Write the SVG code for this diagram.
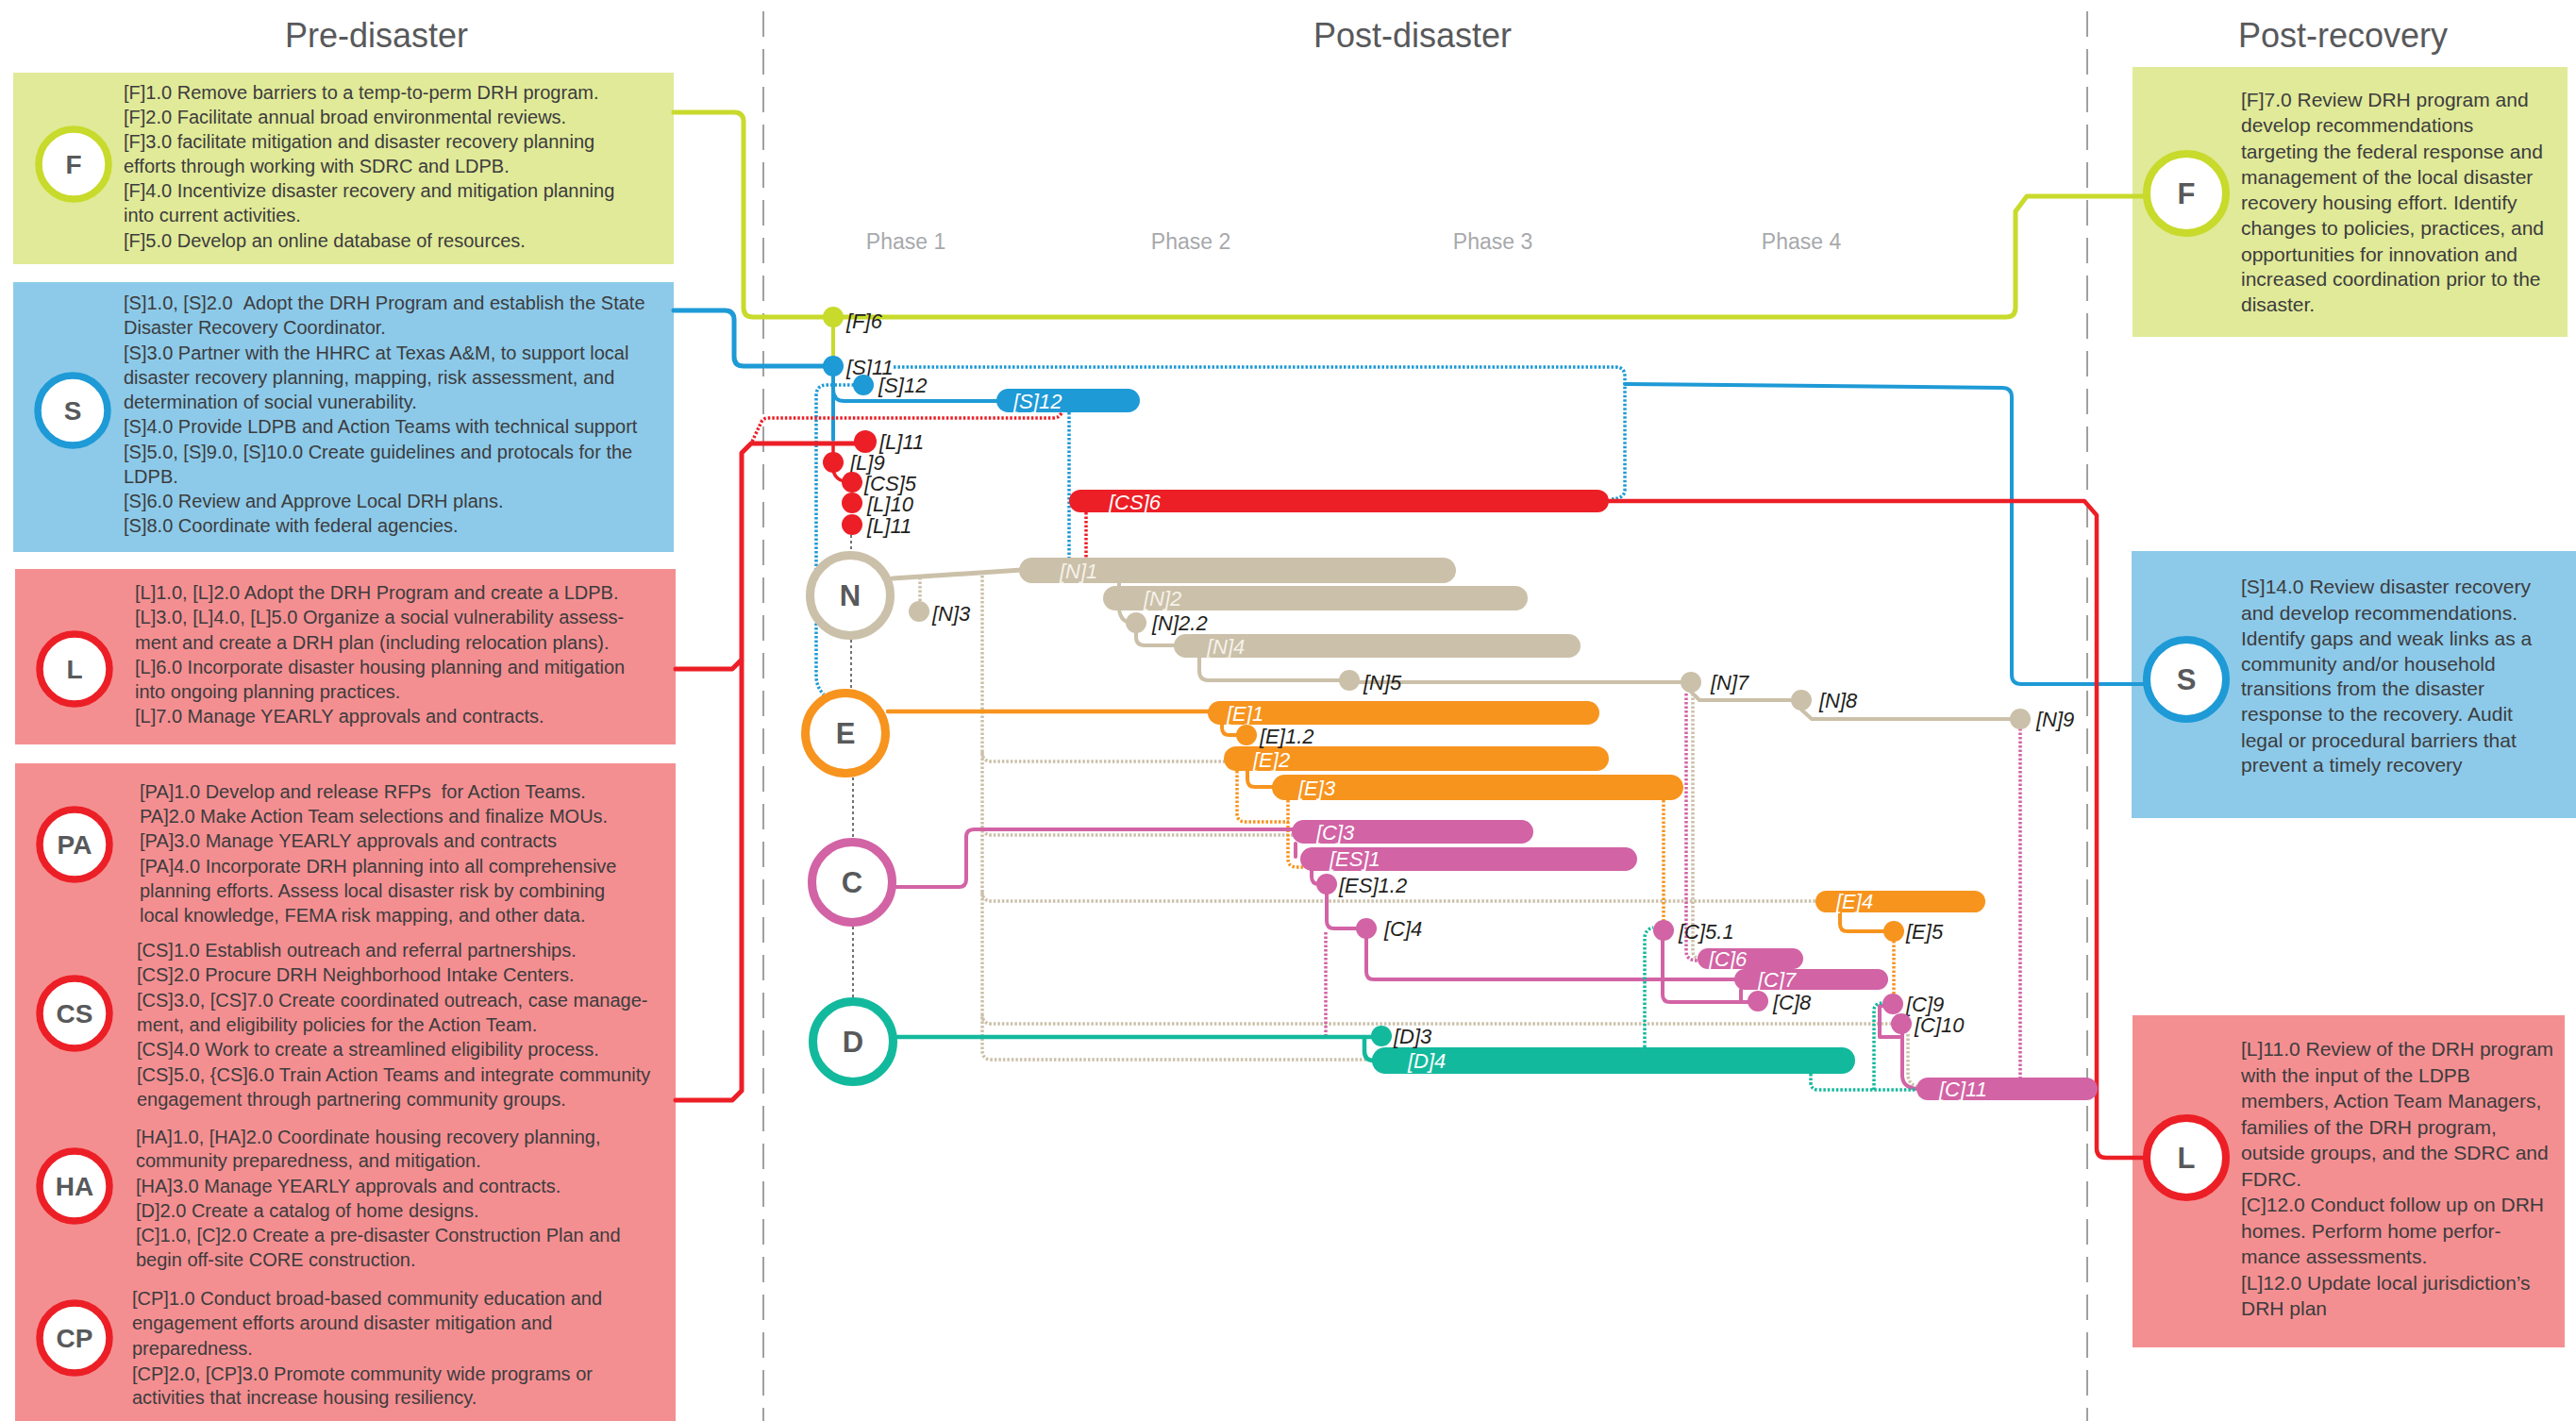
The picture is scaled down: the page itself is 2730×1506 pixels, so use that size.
<svg xmlns="http://www.w3.org/2000/svg" width="2730" height="1506" viewBox="0 0 2730 1506">
<style>
text{font-family:"Liberation Sans",Arial,sans-serif}
.hdr{font-size:36px;fill:#58595b;text-anchor:middle}
.ph{font-size:23px;fill:#a7a9ac;text-anchor:middle}
.body{font-size:20px;fill:#3c3c3e}
.rbody{font-size:21px;fill:#3c3c3e}
.let{font-size:28px;font-weight:bold;fill:#58595b;text-anchor:middle}
.clet{font-size:31px;font-weight:bold;fill:#58595b;text-anchor:middle}
.lbl{font-size:22px;font-style:italic;fill:#231f20}
.blbl{font-size:22px;font-style:italic;fill:#ffffff}
.nlbl{font-size:22px;font-style:italic;fill:#f6f2ea}
.div{stroke:#a0a0a0;stroke-width:2;stroke-dasharray:27 13;fill:none}
.ln{fill:none;stroke-linejoin:round;stroke-linecap:round}
.dt{fill:none;stroke-width:3.5;stroke-dasharray:2.5 2}
.bk{fill:none;stroke:#444;stroke-width:1.5;stroke-dasharray:3 3}
.cw{fill:#fff}
.yg{stroke:#c8da2b}.bl{stroke:#1e9ad6}.rd{stroke:#ec1f26}.bg{stroke:#cbc0a9}.or{stroke:#f7941e}.pk{stroke:#d263a5}.tl{stroke:#13b99d}
.fyg{fill:#c8da2b}.fbl{fill:#1e9ad6}.frd{fill:#ec1f26}.fbg{fill:#cbc0a9}.for{fill:#f7941e}.fpk{fill:#d263a5}.ftl{fill:#13b99d}
</style>
<rect width="2730" height="1506" fill="#ffffff"/>

<g id="headers">
<text class="hdr" x="399" y="50">Pre-disaster</text>
<text class="hdr" x="1497" y="50">Post-disaster</text>
<text class="hdr" x="2483" y="50">Post-recovery</text>
<text class="ph" x="960" y="264">Phase 1</text>
<text class="ph" x="1262" y="264">Phase 2</text>
<text class="ph" x="1582" y="264">Phase 3</text>
<text class="ph" x="1909" y="264">Phase 4</text>
<line class="div" x1="809" y1="12" x2="809" y2="1506"/>
<line class="div" x1="2212" y1="12" x2="2212" y2="1506"/>
</g>

<!-- Left boxes -->
<g id="box-F-pre">
<rect x="14" y="77" width="700" height="203" fill="#e1ea98"/>
<circle cx="78" cy="174" r="37" class="cw yg" stroke-width="7.5"/>
<text class="let" x="78" y="184">F</text>
<text class="body"><tspan x="131" y="105">[F]1.0 Remove barriers to a temp-to-perm DRH program.</tspan><tspan x="131" y="131">[F]2.0 Facilitate annual broad environmental reviews.</tspan><tspan x="131" y="157">[F]3.0 facilitate mitigation and disaster recovery planning</tspan><tspan x="131" y="183">efforts through working with SDRC and LDPB.</tspan><tspan x="131" y="209">[F]4.0 Incentivize disaster recovery and mitigation planning</tspan><tspan x="131" y="235">into current activities.</tspan><tspan x="131" y="262">[F]5.0 Develop an online database of resources.</tspan></text>
</g>
<g id="box-S-pre">
<rect x="14" y="299" width="700" height="286" fill="#8dcae9"/>
<circle cx="77" cy="435" r="37" class="cw bl" stroke-width="7.5"/>
<text class="let" x="77" y="445">S</text>
<text class="body"><tspan x="131" y="328">[S]1.0, [S]2.0 &#160;Adopt the DRH Program and establish the State</tspan><tspan x="131" y="354">Disaster Recovery Coordinator.</tspan><tspan x="131" y="381">[S]3.0 Partner with the HHRC at Texas A&amp;M, to support local</tspan><tspan x="131" y="407">disaster recovery planning, mapping, risk assessment, and</tspan><tspan x="131" y="433">determination of social vunerability.</tspan><tspan x="131" y="459">[S]4.0 Provide LDPB and Action Teams with technical support</tspan><tspan x="131" y="486">[S]5.0, [S]9.0, [S]10.0 Create guidelines and protocals for the</tspan><tspan x="131" y="512">LDPB.</tspan><tspan x="131" y="538">[S]6.0 Review and Approve Local DRH plans.</tspan><tspan x="131" y="564">[S]8.0 Coordinate with federal agencies.</tspan></text>
</g>
<g id="box-L-pre">
<rect x="16" y="603" width="700" height="186" fill="#f48f91"/>
<circle cx="79" cy="709" r="37" class="cw rd" stroke-width="7.5"/>
<text class="let" x="79" y="719">L</text>
<text class="body"><tspan x="143" y="635">[L]1.0, [L]2.0 Adopt the DRH Program and create a LDPB.</tspan><tspan x="143" y="661">[L]3.0, [L]4.0, [L]5.0 Organize a social vulnerability assess-</tspan><tspan x="143" y="688">ment and create a DRH plan (including relocation plans).</tspan><tspan x="143" y="714">[L]6.0 Incorporate disaster housing planning and mitigation</tspan><tspan x="143" y="740">into ongoing planning practices.</tspan><tspan x="143" y="766">[L]7.0 Manage YEARLY approvals and contracts.</tspan></text>
</g>
<g id="box-PA-CS-HA-CP">
<rect x="16" y="809" width="700" height="697" fill="#f48f91"/>
</g>
<g id="box-PA">
<circle cx="79" cy="895" r="37" class="cw rd" stroke-width="7.5"/>
<text class="let" x="79" y="905">PA</text>
<text class="body"><tspan x="148" y="846">[PA]1.0 Develop and release RFPs &#160;for Action Teams.</tspan><tspan x="148" y="872">PA]2.0 Make Action Team selections and finalize MOUs.</tspan><tspan x="148" y="898">[PA]3.0 Manage YEARLY approvals and contracts</tspan><tspan x="148" y="925">[PA]4.0 Incorporate DRH planning into all comprehensive</tspan><tspan x="148" y="951">planning efforts. Assess local disaster risk by combining</tspan><tspan x="148" y="977">local knowledge, FEMA risk mapping, and other data.</tspan></text>
</g>
<g id="box-CS">
<circle cx="79" cy="1074" r="37" class="cw rd" stroke-width="7.5"/>
<text class="let" x="79" y="1084">CS</text>
<text class="body"><tspan x="145" y="1014">[CS]1.0 Establish outreach and referral partnerships.</tspan><tspan x="145" y="1040">[CS]2.0 Procure DRH Neighborhood Intake Centers.</tspan><tspan x="145" y="1067">[CS]3.0, [CS]7.0 Create coordinated outreach, case manage-</tspan><tspan x="145" y="1093">ment, and eligibility policies for the Action Team.</tspan><tspan x="145" y="1119">[CS]4.0 Work to create a streamlined eligibility process.</tspan><tspan x="145" y="1146">[CS]5.0, {CS]6.0 Train Action Teams and integrate community</tspan><tspan x="145" y="1172">engagement through partnering community groups.</tspan></text>
</g>
<g id="box-HA">
<circle cx="79" cy="1257" r="37" class="cw rd" stroke-width="7.5"/>
<text class="let" x="79" y="1267">HA</text>
<text class="body"><tspan x="144" y="1212">[HA]1.0, [HA]2.0 Coordinate housing recovery planning,</tspan><tspan x="144" y="1237">community preparedness, and mitigation.</tspan><tspan x="144" y="1264">[HA]3.0 Manage YEARLY approvals and contracts.</tspan><tspan x="144" y="1290">[D]2.0 Create a catalog of home designs.</tspan><tspan x="144" y="1316">[C]1.0, [C]2.0 Create a pre-disaster Construction Plan and</tspan><tspan x="144" y="1342">begin off-site CORE construction.</tspan></text>
</g>
<g id="box-CP">
<circle cx="79" cy="1418" r="37" class="cw rd" stroke-width="7.5"/>
<text class="let" x="79" y="1428">CP</text>
<text class="body"><tspan x="140" y="1383">[CP]1.0 Conduct broad-based community education and</tspan><tspan x="140" y="1409">engagement efforts around disaster mitigation and</tspan><tspan x="140" y="1436">preparedness.</tspan><tspan x="140" y="1463">[CP]2.0, [CP]3.0 Promote community wide programs or</tspan><tspan x="140" y="1488">activities that increase housing resiliency.</tspan></text>
</g>

<!-- Right boxes -->
<g id="box-F-post">
<rect x="2260" y="71" width="461" height="286" fill="#e1ea98"/>
<text class="rbody"><tspan x="2375" y="113">[F]7.0 Review DRH program and</tspan><tspan x="2375" y="140">develop recommendations</tspan><tspan x="2375" y="168">targeting the federal response and</tspan><tspan x="2375" y="195">management of the local disaster</tspan><tspan x="2375" y="222">recovery housing effort. Identify</tspan><tspan x="2375" y="249">changes to policies, practices, and</tspan><tspan x="2375" y="277">opportunities for innovation and</tspan><tspan x="2375" y="303">increased coordination prior to the</tspan><tspan x="2375" y="330">disaster.</tspan></text>
</g>
<g id="box-S-post">
<rect x="2259" y="584" width="471" height="283" fill="#8dcae9"/>
<text class="rbody"><tspan x="2375" y="629">[S]14.0 Review disaster recovery</tspan><tspan x="2375" y="657">and develop recommendations.</tspan><tspan x="2375" y="684">Identify gaps and weak links as a</tspan><tspan x="2375" y="711">community and/or household</tspan><tspan x="2375" y="737">transitions from the disaster</tspan><tspan x="2375" y="764">response to the recovery. Audit</tspan><tspan x="2375" y="792">legal or procedural barriers that</tspan><tspan x="2375" y="818">prevent a timely recovery</tspan></text>
</g>
<g id="box-L-post">
<rect x="2260" y="1076" width="458" height="352" fill="#f48f91"/>
<text class="rbody"><tspan x="2375" y="1119">[L]11.0 Review of the DRH program</tspan><tspan x="2375" y="1147">with the input of the LDPB</tspan><tspan x="2375" y="1174">members, Action Team Managers,</tspan><tspan x="2375" y="1202">families of the DRH program,</tspan><tspan x="2375" y="1229">outside groups, and the SDRC and</tspan><tspan x="2375" y="1257">FDRC.</tspan><tspan x="2375" y="1284">[C]12.0 Conduct follow up on DRH</tspan><tspan x="2375" y="1312">homes. Perform home perfor-</tspan><tspan x="2375" y="1339">mance assessments.</tspan><tspan x="2375" y="1367">[L]12.0 Update local jurisdiction’s</tspan><tspan x="2375" y="1394">DRH plan</tspan></text>
</g>

<!-- Connectors -->
<g id="connectors">
<path class="bk" d="M902,567 V584 M902,678 V730 M904,824 V888 M904,982 V1058"/>
<path class="ln yg" stroke-width="5" d="M714,119 H778 Q788,119 788,129 V326 Q788,336 798,336 H2126 Q2136,336 2136,326 V224 L2148,208 H2276"/>
<path class="ln yg" stroke-width="4" d="M883,336 V388"/>
<path class="ln bl" stroke-width="5" d="M714,329 H768 Q778,329 778,339 V378 Q778,388 788,388 H883"/>
<path class="ln bl" stroke-width="4" d="M883,388 V466 M883,413 Q883,425 895,425 H1060"/>
<path class="dt bl" d="M947,389 H1712 Q1722,389 1722,399 V519 Q1722,529 1706,529"/>
<path class="ln bl" stroke-width="4" d="M1722,407 L2122,411 Q2132,411 2132,421 V715 Q2132,725 2142,725 H2276"/>
<path class="dt bl" d="M905,408 H876 Q865,408 865,420 V716 Q865,728 873,736"/>
<path class="dt bl" d="M1133,437 V591"/>
<path class="ln rd" stroke-width="5" d="M716,1166 H776 L786,1156 V480 L796,470 H910 M716,709 H776 L786,699"/>
<path class="dt rd" d="M797,468 L807,447 Q809,443 814,443 H1116 Q1123,443 1125,437"/>
<path class="ln rd" stroke-width="3.5" d="M883,470 V489 M883,498 Q885,511 903,511"/>
<path class="dt rd" d="M1151,543 V591"/>
<path class="ln rd" stroke-width="4.5" d="M1705,531 H2209 L2222,546 V1217 Q2222,1227 2232,1227 H2276"/>
<path class="ln bg" stroke-width="5" d="M946,613 L1083,604"/>
<path class="dt bg" stroke-width="4" d="M975,612 V640"/>
<path class="dt bg" stroke-width="4" d="M1041,610 V1113 Q1041,1123 1051,1123 H1456 M1041,797 Q1041,807 1051,807 H1298 M1041,875 Q1041,885 1051,885 H1371 M1041,945 Q1041,955 1051,955 H1926 M1041,1075 Q1041,1085 1051,1085 H2004"/>
<path class="ln bg" stroke-width="4" d="M1186,616 V623 M1186,646 Q1188,660 1200,660 M1204,668 V675 Q1204,684 1213,684 H1246 M1271,697 V711 Q1271,721 1281,721 H1430 M1440,723 H1792 M1792,733 L1801,742 H1909 M1909,752 L1920,762 H2141"/>
<path class="dt bg" stroke-width="3" d="M1794,735 V1008 Q1794,1016 1803,1016"/>
<path class="dt bg" stroke-width="3.5" d="M2022,1096 V1140 Q2023,1150 2033,1152"/>
<path class="ln or" stroke-width="4.5" d="M941,754 H1284"/>
<path class="ln or" stroke-width="4" d="M1295,767 V771 Q1295,779 1303,779 H1321 M1322,817 V826 Q1322,834 1330,834 H1350 M1950,967 V979 Q1950,987 1958,987 H2007"/>
<path class="dt or" d="M1311,817 V862 Q1311,871 1320,871 H1366 M1365,848 V910 Q1365,919 1374,919 H1381 M1763,848 V976 M2007,997 V1054"/>
<path class="ln pk" stroke-width="4" d="M949,940 H1016 Q1024,940 1024,932 V887 Q1024,879 1032,879 H1372 M1373,894 V908 M1390,923 V929 Q1390,937 1398,937 H1406 M1406,946 V976 Q1406,984 1414,984 H1448 M1448,993 V1030 Q1448,1038 1456,1038 H1840 M1762,996 V1054 Q1762,1062 1770,1062 H1863 M1845,1049 V1060 M2000,1066 H1992 V1099 H2016 M2016,1095 V1140 Q2016,1152 2031,1154"/>
<path class="dt pk" d="M1405,988 V1098 M1787,735 V1008 Q1787,1018 1799,1018 M2141,772 V1142"/>
<path class="ln tl" stroke-width="4.5" d="M949,1099 H1464 M1446,1099 V1114 Q1446,1124 1456,1124"/>
<path class="dt tl" d="M1919,1138 V1147 Q1919,1155 1927,1155 H2031 M1986,1155 V1071 Q1986,1063 1996,1063 M1743,1110 V995 Q1743,985 1752,983"/>
</g>

<g id="node-F-post"><circle cx="2317" cy="205" r="42" class="cw yg" stroke-width="8"/><text class="clet" x="2317" y="216">F</text></g>
<g id="node-S-post"><circle cx="2317" cy="720" r="42" class="cw bl" stroke-width="8"/><text class="clet" x="2317" y="731">S</text></g>
<g id="node-L-post"><circle cx="2317" cy="1227" r="42" class="cw rd" stroke-width="8"/><text class="clet" x="2317" y="1238">L</text></g>

<g id="node-N"><circle cx="901" cy="631" r="42.5" class="cw bg" stroke-width="9"/><text class="clet" x="901" y="642">N</text></g>
<g id="node-E"><circle cx="896" cy="777" r="42.5" class="cw or" stroke-width="9"/><text class="clet" x="896" y="788">E</text></g>
<g id="node-C"><circle cx="903" cy="935" r="42.5" class="cw pk" stroke-width="9"/><text class="clet" x="903" y="946">C</text></g>
<g id="node-D"><circle cx="904" cy="1104" r="42.5" class="cw tl" stroke-width="9"/><text class="clet" x="904" y="1115">D</text></g>

<g id="bar-S12"><rect x="1056" y="412" width="152" height="25" rx="12.5" class="fbl"/><text class="blbl" x="1074" y="433">[S]12</text></g>
<g id="bar-CS6"><rect x="1133" y="519" width="572" height="24" rx="12" class="frd"/><text class="blbl" x="1175" y="540">[CS]6</text></g>
<g id="bar-N1"><rect x="1080" y="591" width="463" height="27" rx="13.5" class="fbg"/><text class="nlbl" x="1123" y="613">[N]1</text></g>
<g id="bar-N2"><rect x="1169" y="621" width="450" height="26" rx="13" class="fbg"/><text class="nlbl" x="1212" y="642">[N]2</text></g>
<g id="bar-N4"><rect x="1244" y="672" width="431" height="25" rx="12.5" class="fbg"/><text class="nlbl" x="1279" y="693">[N]4</text></g>
<g id="bar-E1"><rect x="1280" y="743" width="415" height="25" rx="12.5" class="for"/><text class="blbl" x="1300" y="764">[E]1</text></g>
<g id="bar-E2"><rect x="1297" y="791" width="408" height="26" rx="13" class="for"/><text class="blbl" x="1328" y="813">[E]2</text></g>
<g id="bar-E3"><rect x="1348" y="821" width="436" height="27" rx="13.5" class="for"/><text class="blbl" x="1376" y="843">[E]3</text></g>
<g id="bar-C3"><rect x="1369" y="869" width="256" height="25" rx="12.5" class="fpk"/><text class="blbl" x="1395" y="890">[C]3</text></g>
<g id="bar-ES1"><rect x="1378" y="898" width="357" height="25" rx="12.5" class="fpk"/><text class="blbl" x="1409" y="918">[ES]1</text></g>
<g id="bar-E4"><rect x="1924" y="944" width="180" height="23" rx="11.5" class="for"/><text class="blbl" x="1946" y="963">[E]4</text></g>
<g id="bar-C6"><rect x="1799" y="1005" width="112" height="22" rx="11" class="fpk"/><text class="blbl" x="1811" y="1024">[C]6</text></g>
<g id="bar-C7"><rect x="1838" y="1027" width="163" height="22" rx="11" class="fpk"/><text class="blbl" x="1863" y="1046">[C]7</text></g>
<g id="bar-D4"><rect x="1454" y="1110" width="512" height="28" rx="14" class="ftl"/><text class="blbl" x="1492" y="1132">[D]4</text></g>
<g id="bar-C11"><rect x="2031" y="1142" width="192" height="24" rx="12" class="fpk"/><text class="blbl" x="2055" y="1162">[C]11</text></g>

<g id="dot-F6"><circle cx="883" cy="336" r="11" class="fyg"/><text class="lbl" x="897" y="348">[F]6</text></g>
<g id="dot-S11"><circle cx="883" cy="388" r="11" class="fbl"/><text class="lbl" x="897" y="397">[S]11</text></g>
<g id="dot-S12"><circle cx="915" cy="408" r="11" class="fbl"/><text class="lbl" x="931" y="416">[S]12</text></g>
<g id="dot-L11a"><circle cx="917" cy="468" r="12" class="frd"/><text class="lbl" x="932" y="476">[L]11</text></g>
<g id="dot-L9"><circle cx="883" cy="490" r="11" class="frd"/><text class="lbl" x="901" y="498">[L]9</text></g>
<g id="dot-CS5"><circle cx="903" cy="511" r="11" class="frd"/><text class="lbl" x="916" y="520">[CS]5</text></g>
<g id="dot-L10"><circle cx="903" cy="533" r="11" class="frd"/><text class="lbl" x="919" y="542">[L]10</text></g>
<g id="dot-L11b"><circle cx="903" cy="556" r="11" class="frd"/><text class="lbl" x="919" y="565">[L]11</text></g>
<g id="dot-N3"><circle cx="974" cy="648" r="11" class="fbg"/><text class="lbl" x="988" y="658">[N]3</text></g>
<g id="dot-N22"><circle cx="1204" cy="660" r="11" class="fbg"/><text class="lbl" x="1221" y="668">[N]2.2</text></g>
<g id="dot-N5"><circle cx="1430" cy="721" r="11" class="fbg"/><text class="lbl" x="1445" y="731">[N]5</text></g>
<g id="dot-N7"><circle cx="1792" cy="723" r="11" class="fbg"/><text class="lbl" x="1813" y="731">[N]7</text></g>
<g id="dot-N8"><circle cx="1909" cy="742" r="11" class="fbg"/><text class="lbl" x="1928" y="750">[N]8</text></g>
<g id="dot-N9"><circle cx="2141" cy="762" r="11" class="fbg"/><text class="lbl" x="2158" y="770">[N]9</text></g>
<g id="dot-E12"><circle cx="1321" cy="779" r="11" class="for"/><text class="lbl" x="1335" y="788">[E]1.2</text></g>
<g id="dot-ES12"><circle cx="1406" cy="937" r="11" class="fpk"/><text class="lbl" x="1419" y="946">[ES]1.2</text></g>
<g id="dot-C4"><circle cx="1448" cy="984" r="11" class="fpk"/><text class="lbl" x="1467" y="992">[C]4</text></g>
<g id="dot-C51"><circle cx="1763" cy="986" r="11" class="fpk"/><text class="lbl" x="1779" y="995">[C]5.1</text></g>
<g id="dot-E5"><circle cx="2007" cy="987" r="11" class="for"/><text class="lbl" x="2020" y="995">[E]5</text></g>
<g id="dot-C8"><circle cx="1863" cy="1061" r="11" class="fpk"/><text class="lbl" x="1879" y="1070">[C]8</text></g>
<g id="dot-C9"><circle cx="2006" cy="1064" r="11" class="fpk"/><text class="lbl" x="2020" y="1072">[C]9</text></g>
<g id="dot-C10"><circle cx="2015" cy="1085" r="11" class="fpk"/><text class="lbl" x="2029" y="1094">[C]10</text></g>
<g id="dot-D3"><circle cx="1464" cy="1098" r="11" class="ftl"/><text class="lbl" x="1477" y="1106">[D]3</text></g>
</svg>
